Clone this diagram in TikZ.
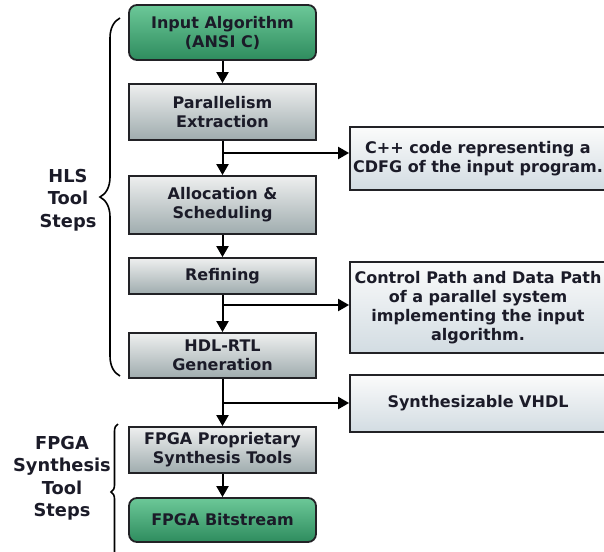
\documentclass[tikz,border=0pt]{standalone}
\usepackage{fontspec}
\setmainfont{DejaVu Sans}
\usetikzlibrary{arrows.meta,decorations.pathreplacing}
\definecolor{txt}{HTML}{1B1B28}
\definecolor{edge}{HTML}{222226}
\definecolor{gtop}{HTML}{EEEFEF}
\definecolor{gbot}{HTML}{9FACAE}
\definecolor{grtop}{HTML}{6CC898}
\definecolor{grbot}{HTML}{2E8C5E}
\definecolor{otop}{HTML}{FBFBFB}
\definecolor{obot}{HTML}{D2DCE2}
\tikzset{
  box/.style={draw=edge, line width=1.8pt, font=\bfseries\fontsize{16}{19}\selectfont,
    text=txt, align=center, inner sep=0pt, minimum width=187pt},
  greybox/.style={box, top color=gtop, bottom color=gbot},
  greenbox/.style={box, rounded corners=8pt, top color=grtop, bottom color=grbot},
  outbox/.style={box, minimum width=256pt, top color=otop, bottom color=obot},
  arr/.style={draw=black, line width=2pt, -{Triangle[length=11pt,width=12pt]}},
  bracestyle/.style={draw=black, line width=1.6pt, decorate},
  sidelabel/.style={font=\bfseries\fontsize{17.8}{22.5}\selectfont, text=txt, align=center}
}
\begin{document}
\begin{tikzpicture}[x=1pt,y=-1pt]
\useasboundingbox (0,0) rectangle (604,551);
% main column
\node[greenbox, minimum height=55pt] (inp) at (222.5,32.5) {Input Algorithm\\(ANSI C)};
\node[greybox, minimum height=56pt] (par) at (222.5,112) {Parallelism\\Extraction};
\node[greybox, minimum height=58pt] (alloc) at (222.5,205) {Allocation \&\\Scheduling};
\node[greybox, minimum height=36pt] (ref) at (222.5,276) {Refining};
\node[greybox, minimum height=45pt] (hdl) at (222.5,355.5) {HDL-RTL\\Generation};
\node[greybox, minimum height=46pt] (fpp) at (222.5,450) {FPGA Proprietary\\Synthesis Tools};
\node[greenbox, minimum height=44pt] (bit) at (222.5,520) {FPGA Bitstream};
% outputs
\node[outbox, minimum height=63pt] (cpp) at (478,158.5) {C++ code representing a\\CDFG of the input program.};
\node[outbox, minimum height=91pt] (cdp) at (478,307.5) {Control Path and Data Path\\of a parallel system\\implementing the input\\algorithm.};
\node[outbox, minimum height=57pt] (vhdl) at (478,403.5) {Synthesizable VHDL};
% branch points
\coordinate (b1) at (222.5,153);
\coordinate (b2) at (222.5,305);
\coordinate (b3) at (222.5,403);
% arrows
\draw[arr] (inp) -- (par);
\draw[arr] (par) -- (alloc);
\draw[arr] (alloc) -- (ref);
\draw[arr] (ref) -- (hdl);
\draw[arr] (hdl) -- (fpp);
\draw[arr] (fpp) -- (bit);
\draw[arr] (b1) -- (b1 -| cpp.west);
\draw[arr] (b2) -- (b2 -| cdp.west);
\draw[arr] (b3) -- (b3 -| vhdl.west);
% braces
\draw[bracestyle, decoration={brace, amplitude=20pt}] (120,376) -- (120,18);
\draw[bracestyle, decoration={brace, amplitude=7pt}] (118,560) -- (118,424);
% labels
\node[sidelabel] (hls) at (68,200) {HLS\\Tool\\Steps};
\node[sidelabel] (fpga) at (62,478) {FPGA\\Synthesis\\Tool\\Steps};
\end{tikzpicture}
\end{document}
